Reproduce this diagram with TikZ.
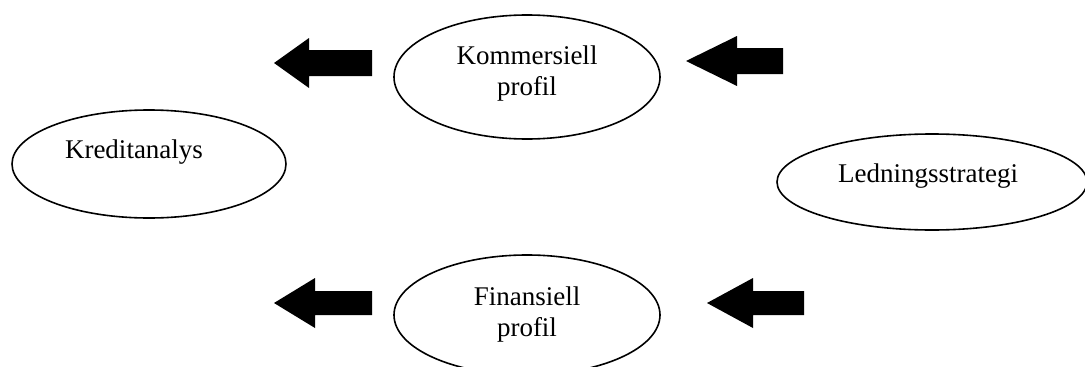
\documentclass[tikz,border=0pt]{standalone}
\usepackage{fontspec}
\setmainfont{Liberation Serif}
\begin{document}
\begin{tikzpicture}[x=1pt,y=-1pt]
	\tikzstyle{every node}+=[inner sep=0pt]
	\tikzstyle{rim}=[black, line width=1.6pt]
	\tikzstyle{txt}=[font=\fontsize{27}{31}\selectfont, align=center]
	\useasboundingbox (0,0) rectangle (1085,367);
	% ellipses
	\draw [rim] (149,164) ellipse (137 and 54);
	\draw (134,158) node [txt, anchor=base] (kredit) {Kreditanalys};
	\draw [rim] (527,77) ellipse (133 and 62);
	\draw (527,74) node [txt] (komm) {Kommersiell\\profil};
	\draw [rim] (527,315) ellipse (133 and 60);
	\draw (527,315) node [txt] (fin) {Finansiell\\profil};
	\draw [rim] (932,182) ellipse (155 and 48);
	\draw (928,182) node [txt, anchor=base] (led) {Ledningsstrategi};
	% block arrows
	\fill [black] (274,63) -- (309,38) -- (309,50) -- (372,50) -- (372,76) -- (309,76) -- (309,88) -- cycle;
	\fill [black] (686,61) -- (737,36) -- (737,48) -- (783,48) -- (783,74) -- (737,74) -- (737,86) -- cycle;
	\fill [black] (274,303) -- (315,278) -- (315,291) -- (372,291) -- (372,315) -- (315,315) -- (315,328) -- cycle;
	\fill [black] (707,303) -- (753,278) -- (753,291) -- (804,291) -- (804,315) -- (753,315) -- (753,328) -- cycle;
\end{tikzpicture}
\end{document}
